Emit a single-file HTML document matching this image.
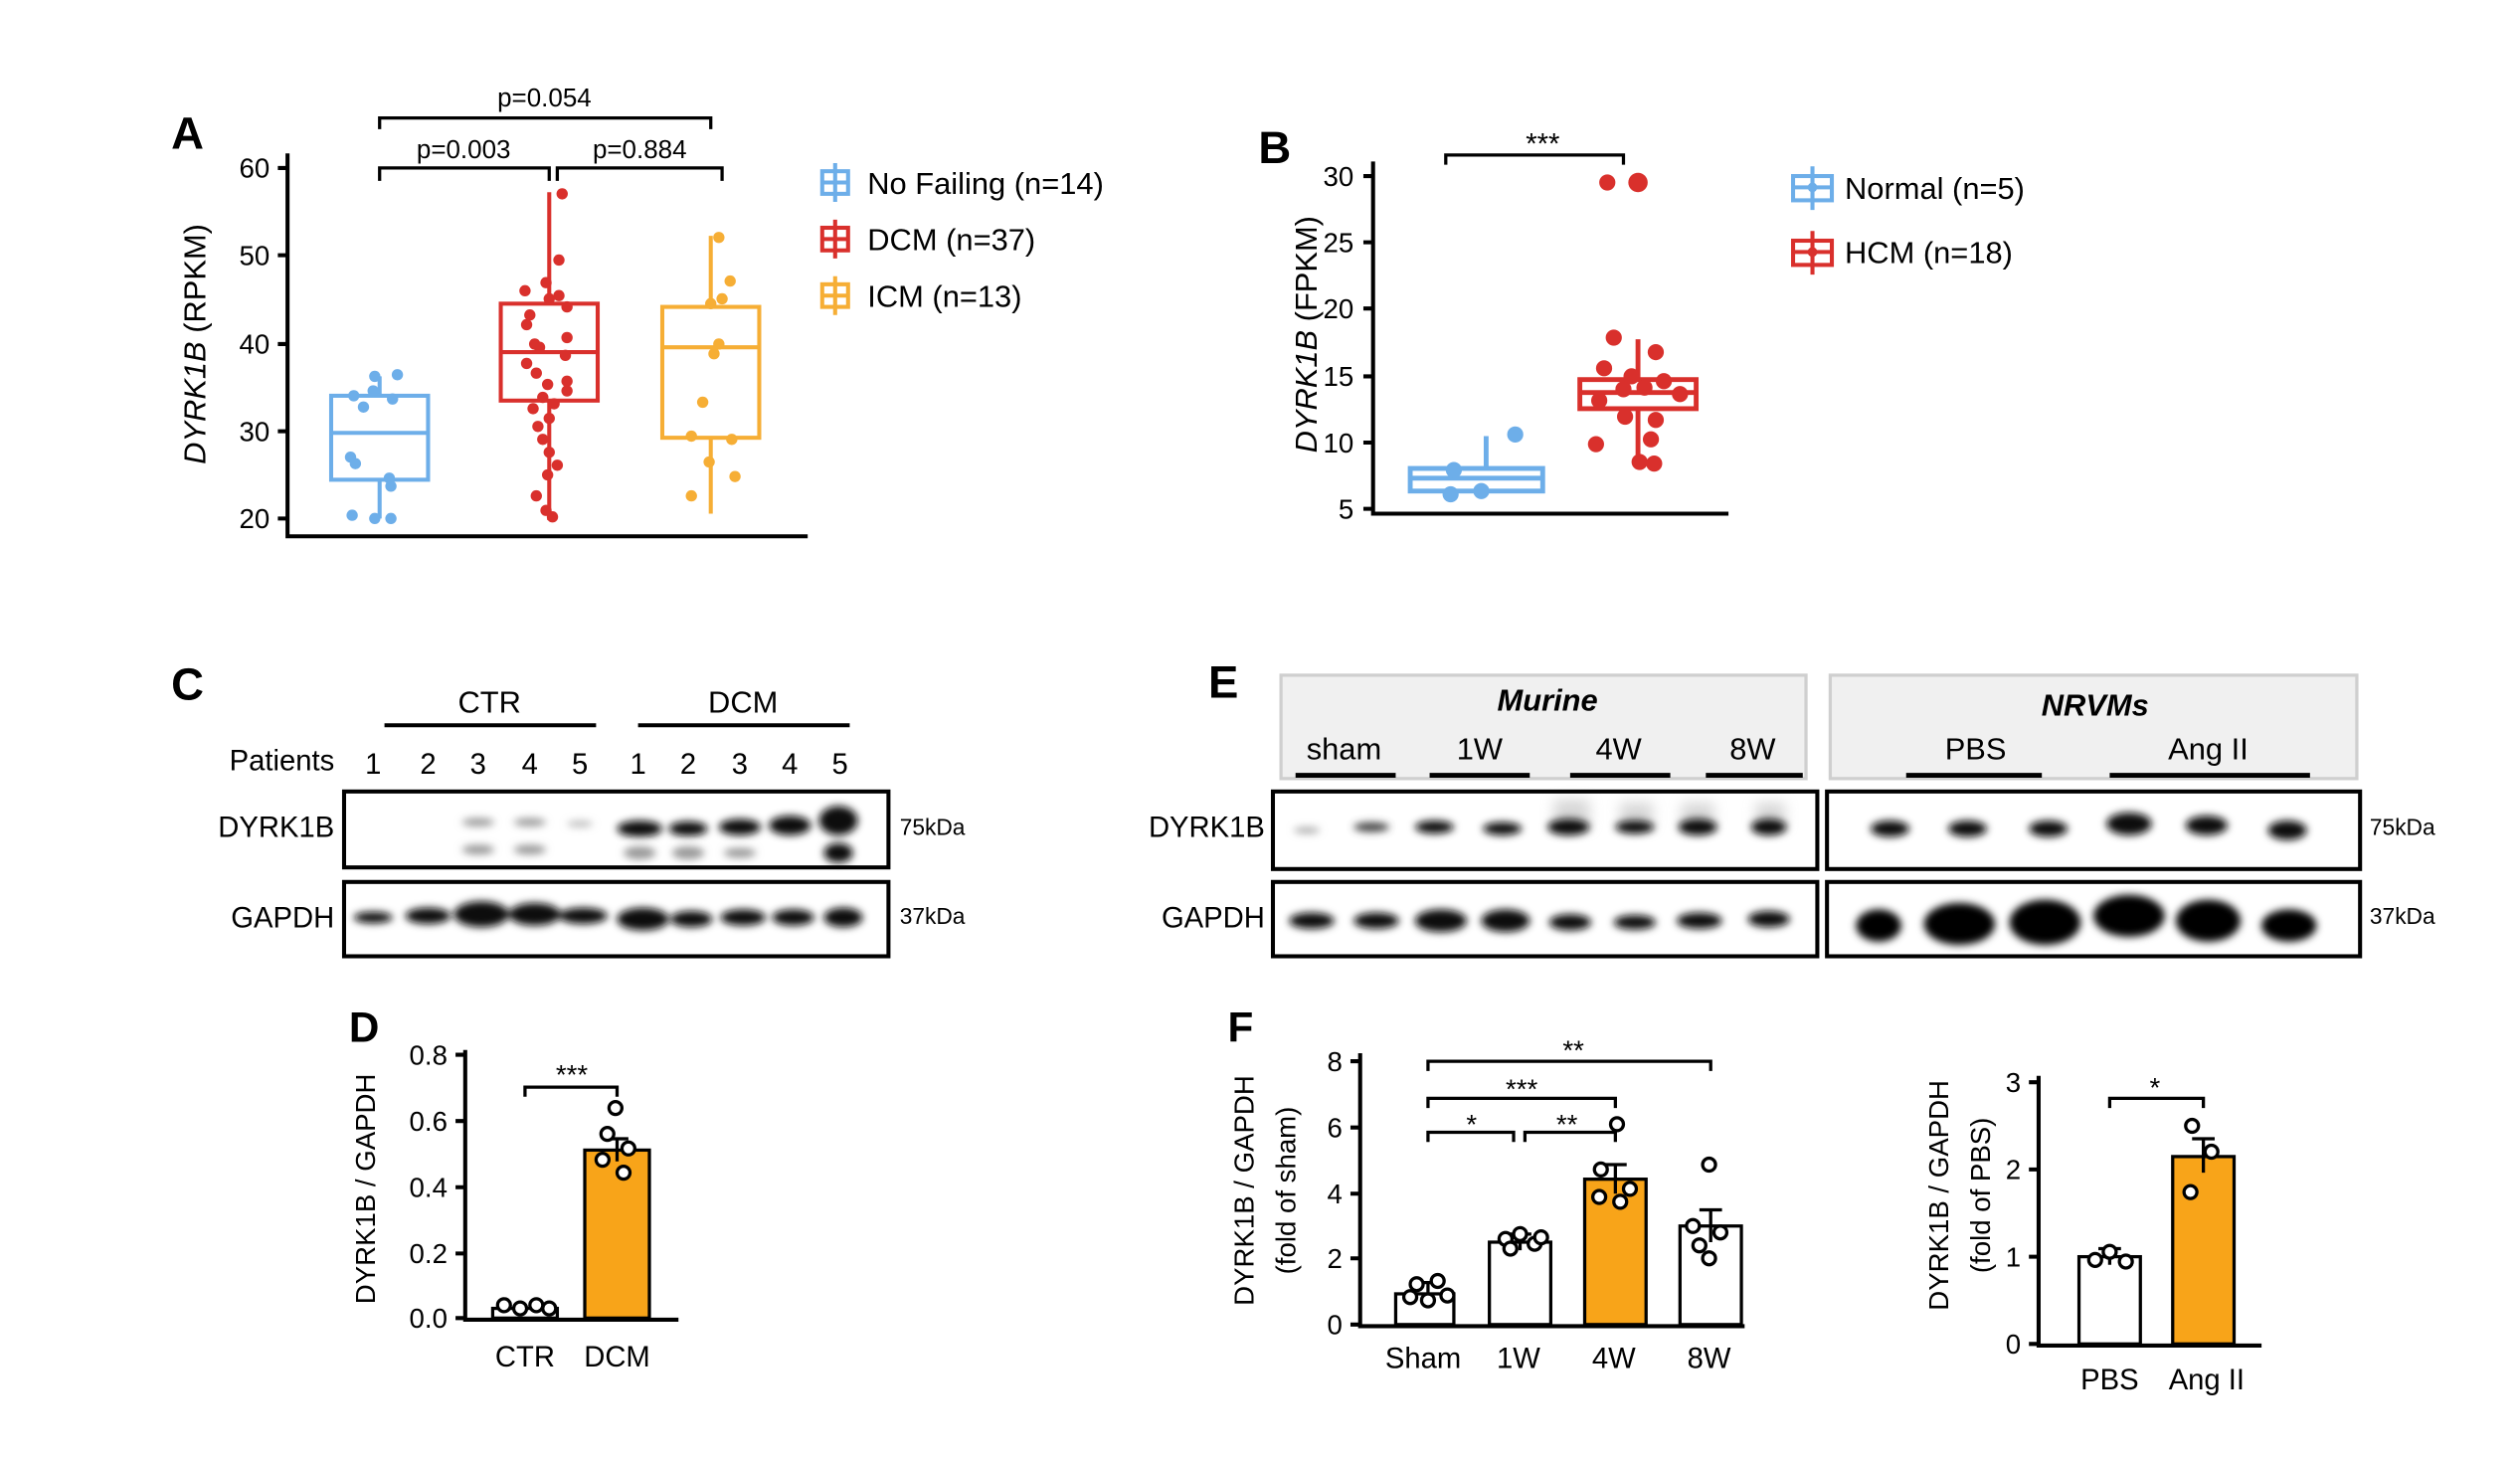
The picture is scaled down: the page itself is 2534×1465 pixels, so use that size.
<!DOCTYPE html>
<html><head><meta charset="utf-8"><style>
html,body{margin:0;padding:0;background:#fff}
svg{display:block}
text{font-family:"Liberation Sans",Arial,sans-serif;fill:#000}
</style></head><body>
<svg width="2534" height="1465" viewBox="0 0 1560 902" preserveAspectRatio="none" xmlns="http://www.w3.org/2000/svg">
<defs><filter id="b" x="-50%" y="-100%" width="200%" height="300%"><feGaussianBlur stdDeviation="2.5"/></filter>
<filter id="b3" x="-50%" y="-50%" width="200%" height="200%"><feGaussianBlur stdDeviation="4"/></filter></defs>
<rect width="1560" height="902" fill="#fff"/>

<!-- Panel A -->
<text x="106" y="92" font-size="28" font-weight="bold">A</text>
<g stroke="#000" stroke-width="2.5" fill="none">
<path d="M178 95V332H500"/>
<path d="M172 104H178M172 158H178M172 213H178M172 267H178M172 321H178"/>
</g>
<g font-size="17" text-anchor="end"><text x="167" y="110">60</text><text x="167" y="164">50</text><text x="167" y="219">40</text><text x="167" y="273">30</text><text x="167" y="327">20</text></g>
<text transform="translate(127,213) rotate(-90)" font-size="19" text-anchor="middle"><tspan font-style="italic">DYRK1B</tspan> (RPKM)</text>
<g stroke="#000" stroke-width="2" fill="none">
<path d="M235 112V104H340V112M345 112V104H447V112M235 80V73H440V80"/></g>
<g font-size="16" text-anchor="middle"><text x="287" y="98">p=0.003</text><text x="396" y="98">p=0.884</text><text x="337" y="66">p=0.054</text></g>
<g stroke="#6daee9" stroke-width="2.5" fill="none"><rect x="205" y="245" width="60" height="52"/><path d="M205 268H265M235 245V233M235 297V321"/></g>
<g fill="#6daee9"><circle cx="232" cy="233" r="3.5"/><circle cx="246" cy="232" r="3.5"/><circle cx="219" cy="245" r="3.5"/><circle cx="231" cy="242" r="3.5"/><circle cx="243" cy="247" r="3.5"/><circle cx="225" cy="252" r="3.5"/><circle cx="217" cy="283" r="3.5"/><circle cx="220" cy="287" r="3.5"/><circle cx="241" cy="296" r="3.5"/><circle cx="242" cy="301" r="3.5"/><circle cx="218" cy="319" r="3.5"/><circle cx="232" cy="321" r="3.5"/><circle cx="242" cy="321" r="3.5"/></g>
<g stroke="#d9302c" stroke-width="2.5" fill="none"><rect x="310" y="188" width="60" height="60"/><path d="M310 218H370M340 188V119M340 248V322"/></g>
<g fill="#d9302c"><circle cx="348" cy="120" r="3.5"/><circle cx="346" cy="161" r="3.5"/><circle cx="338" cy="175" r="3.5"/><circle cx="325" cy="180" r="3.5"/><circle cx="340" cy="185" r="3.5"/><circle cx="346" cy="183" r="3.5"/><circle cx="351" cy="190" r="3.5"/><circle cx="328" cy="195" r="3.5"/><circle cx="326" cy="201" r="3.5"/><circle cx="351" cy="209" r="3.5"/><circle cx="331" cy="213" r="3.5"/><circle cx="334" cy="215" r="3.5"/><circle cx="350" cy="220" r="3.5"/><circle cx="326" cy="225" r="3.5"/><circle cx="332" cy="231" r="3.5"/><circle cx="351" cy="236" r="3.5"/><circle cx="339" cy="238" r="3.5"/><circle cx="351" cy="242" r="3.5"/><circle cx="336" cy="246" r="3.5"/><circle cx="343" cy="250" r="3.5"/><circle cx="330" cy="253" r="3.5"/><circle cx="340" cy="259" r="3.5"/><circle cx="333" cy="264" r="3.5"/><circle cx="336" cy="272" r="3.5"/><circle cx="340" cy="280" r="3.5"/><circle cx="339" cy="294" r="3.5"/><circle cx="332" cy="307" r="3.5"/><circle cx="338" cy="316" r="3.5"/><circle cx="342" cy="320" r="3.5"/><circle cx="345" cy="288" r="3.5"/></g>
<g stroke="#f6ae35" stroke-width="2.5" fill="none"><rect x="410" y="190" width="60" height="81"/><path d="M410 215H470M440 190V146M440 271V318"/></g>
<g fill="#f6ae35"><circle cx="445" cy="147" r="3.5"/><circle cx="452" cy="174" r="3.5"/><circle cx="447" cy="185" r="3.5"/><circle cx="440" cy="188" r="3.5"/><circle cx="445" cy="213" r="3.5"/><circle cx="442" cy="219" r="3.5"/><circle cx="435" cy="249" r="3.5"/><circle cx="428" cy="270" r="3.5"/><circle cx="453" cy="272" r="3.5"/><circle cx="439" cy="286" r="3.5"/><circle cx="455" cy="295" r="3.5"/><circle cx="428" cy="307" r="3.5"/></g>
<g stroke-width="2.5" fill="none"><g stroke="#6daee9"><rect x="509" y="106" width="16" height="14"/><path d="M517 101V125M509 113H525"/></g>
<g stroke="#d9302c"><rect x="509" y="141" width="16" height="14"/><path d="M517 136V160M509 148H525"/></g>
<g stroke="#f6ae35"><rect x="509" y="176" width="16" height="14"/><path d="M517 171V195M509 183H525"/></g></g>
<g font-size="19"><text x="537" y="120">No Failing (n=14)</text><text x="537" y="155">DCM (n=37)</text><text x="537" y="190">ICM (n=13)</text></g>

<!-- Panel B -->
<text x="779" y="101" font-size="28" font-weight="bold">B</text>
<g stroke="#000" stroke-width="2.5" fill="none"><path d="M850 100V318H1070"/>
<path d="M844 109H850M844 150H850M844 191H850M844 233H850M844 274H850M844 315H850"/></g>
<g font-size="17" text-anchor="end"><text x="838" y="115">30</text><text x="838" y="156">25</text><text x="838" y="197">20</text><text x="838" y="239">15</text><text x="838" y="280">10</text><text x="838" y="321">5</text></g>
<text transform="translate(815,207) rotate(-90)" font-size="19" text-anchor="middle"><tspan font-style="italic">DYRK1B</tspan> (FPKM)</text>
<path d="M895 102V96H1005V102" stroke="#000" stroke-width="2" fill="none"/>
<text x="955" y="95" font-size="18" text-anchor="middle">***</text>
<g stroke="#6daee9" stroke-width="3" fill="none"><rect x="873" y="290" width="82" height="14"/><path d="M873 296H955M920 290V270"/></g>
<g fill="#6daee9"><circle cx="938" cy="269" r="5"/><circle cx="900" cy="291" r="5"/><circle cx="898" cy="306" r="5"/><circle cx="917" cy="304" r="5"/></g>
<g stroke="#d9302c" stroke-width="3" fill="none"><rect x="978" y="235" width="72" height="18"/><path d="M978 243H1050M1014 235V210M1014 253V285"/></g>
<g fill="#d9302c"><circle cx="995" cy="113" r="5"/><circle cx="1014" cy="113" r="6"/><circle cx="999" cy="209" r="5"/><circle cx="1025" cy="218" r="5"/><circle cx="993" cy="228" r="5"/><circle cx="1010" cy="233" r="5"/><circle cx="1030" cy="236" r="5"/><circle cx="1018" cy="240" r="5"/><circle cx="1005" cy="241" r="5"/><circle cx="1040" cy="244" r="5"/><circle cx="990" cy="248" r="5"/><circle cx="1006" cy="258" r="5"/><circle cx="1025" cy="260" r="5"/><circle cx="988" cy="275" r="5"/><circle cx="1022" cy="272" r="5"/><circle cx="1015" cy="286" r="5"/><circle cx="1024" cy="287" r="5"/></g>
<g stroke-width="2.5" fill="none"><g stroke="#6daee9"><rect x="1110" y="109" width="24" height="15"/><path d="M1122 103V130M1110 116H1134"/></g>
<g stroke="#d9302c"><rect x="1110" y="149" width="24" height="15"/><path d="M1122 143V170M1110 156H1134"/></g></g>
<circle cx="1122" cy="116" r="3" fill="#6daee9"/><circle cx="1122" cy="156" r="3" fill="#d9302c"/>
<g font-size="19"><text x="1142" y="123">Normal (n=5)</text><text x="1142" y="163">HCM (n=18)</text></g>

<!-- Panel C -->
<text x="106" y="433" font-size="28" font-weight="bold">C</text>
<g stroke="#000" stroke-width="2.5"><path d="M238 449H369M395 449H526"/></g>
<g font-size="19" text-anchor="middle"><text x="303" y="441">CTR</text><text x="460" y="441">DCM</text></g>
<text x="207" y="477" font-size="18" text-anchor="end">Patients</text>
<g font-size="18" text-anchor="middle"><text x="231" y="479">1</text><text x="265" y="479">2</text><text x="296" y="479">3</text><text x="328" y="479">4</text><text x="359" y="479">5</text><text x="395" y="479">1</text><text x="426" y="479">2</text><text x="458" y="479">3</text><text x="489" y="479">4</text><text x="520" y="479">5</text></g>
<g font-size="18" text-anchor="end"><text x="207" y="518">DYRK1B</text><text x="207" y="574">GAPDH</text></g>
<g filter="url(#b)">
<g fill="#999"><ellipse cx="296" cy="509" rx="10" ry="2.5"/><ellipse cx="328" cy="509" rx="10" ry="2.5"/><ellipse cx="296" cy="526" rx="10" ry="3"/><ellipse cx="328" cy="526" rx="10" ry="3"/><ellipse cx="359" cy="510" rx="8" ry="2" fill="#bbb"/></g>
<g fill="#111"><ellipse cx="396" cy="513" rx="14" ry="5"/><ellipse cx="426" cy="513" rx="12" ry="4.5"/><ellipse cx="458" cy="512" rx="13" ry="5"/><ellipse cx="489" cy="511" rx="13" ry="6"/><ellipse cx="519" cy="508" rx="12" ry="9"/><ellipse cx="519" cy="528" rx="9" ry="6"/></g>
<g fill="#999"><ellipse cx="396" cy="528" rx="10" ry="4"/><ellipse cx="426" cy="528" rx="10" ry="4"/><ellipse cx="458" cy="528" rx="10" ry="3"/></g>
<g fill="#111"><ellipse cx="231" cy="568" rx="12" ry="3.5"/><ellipse cx="265" cy="567" rx="14" ry="5"/><ellipse cx="298" cy="566" rx="17" ry="8"/><ellipse cx="331" cy="566" rx="16" ry="7"/><ellipse cx="361" cy="567" rx="15" ry="5"/><ellipse cx="398" cy="569" rx="16" ry="7"/><ellipse cx="428" cy="569" rx="13" ry="5"/><ellipse cx="460" cy="568" rx="14" ry="5"/><ellipse cx="491" cy="568" rx="13" ry="5"/><ellipse cx="522" cy="568" rx="12" ry="6"/></g>
</g>
<g fill="none" stroke="#000" stroke-width="2.5"><rect x="213" y="490" width="337" height="47"/><rect x="213" y="546" width="337" height="46"/></g>
<g font-size="14"><text x="557" y="517">75kDa</text><text x="557" y="572">37kDa</text></g>

<!-- Panel D -->
<text x="216" y="645" font-size="26" font-weight="bold">D</text>
<g stroke="#000" stroke-width="2.5" fill="none"><path d="M288 650V817H420"/>
<path d="M282 653H288M282 694H288M282 735H288M282 776H288M282 816H288"/></g>
<g font-size="17" text-anchor="end"><text x="277" y="659">0.8</text><text x="277" y="700">0.6</text><text x="277" y="741">0.4</text><text x="277" y="782">0.2</text><text x="277" y="822">0.0</text></g>
<text transform="translate(232,736) rotate(-90)" font-size="17" text-anchor="middle">DYRK1B / GAPDH</text>
<rect x="305" y="810" width="40" height="6" fill="#fff" stroke="#000" stroke-width="2"/>
<rect x="362" y="712" width="40" height="104" fill="#f8a419" stroke="#000" stroke-width="2"/>
<g stroke="#000" stroke-width="2" fill="none"><path d="M375 705H389M382 705V719"/>
<path d="M325 679V673H382V679"/></g>
<text x="354" y="671" font-size="17" text-anchor="middle">***</text>
<g fill="#fff" stroke="#000" stroke-width="2"><circle cx="312" cy="808" r="4"/><circle cx="322" cy="810" r="4"/><circle cx="332" cy="808" r="4"/><circle cx="340" cy="810" r="4"/><circle cx="381" cy="686" r="4"/><circle cx="376" cy="702" r="4"/><circle cx="389" cy="711" r="4"/><circle cx="373" cy="718" r="4"/><circle cx="386" cy="726" r="4"/></g>
<g font-size="18" text-anchor="middle"><text x="325" y="846">CTR</text><text x="382" y="846">DCM</text></g>

<!-- Panel E -->
<text x="748" y="432" font-size="28" font-weight="bold">E</text>
<g fill="#f0f0f0" stroke="#cfcfcf" stroke-width="2"><rect x="793" y="418" width="325" height="64"/><rect x="1133" y="418" width="326" height="64"/></g>
<g font-size="19" font-weight="bold" font-style="italic" text-anchor="middle"><text x="958" y="440">Murine</text><text x="1297" y="443">NRVMs</text></g>
<g font-size="19" text-anchor="middle"><text x="832" y="470">sham</text><text x="916" y="470">1W</text><text x="1002" y="470">4W</text><text x="1085" y="470">8W</text><text x="1223" y="470">PBS</text><text x="1367" y="470">Ang II</text></g>
<g stroke="#000" stroke-width="3"><path d="M802 480H864M885 480H947M972 480H1034M1056 480H1116M1180 480H1264M1306 480H1430"/></g>
<g font-size="18" text-anchor="end"><text x="783" y="518">DYRK1B</text><text x="783" y="574">GAPDH</text></g>
<g filter="url(#b3)" fill="#ccc" opacity="0.8"><rect x="962" y="495" width="22" height="18"/><rect x="1003" y="497" width="20" height="16"/><rect x="1041" y="497" width="20" height="16"/><rect x="1087" y="497" width="18" height="16"/></g>
<g filter="url(#b)">
<g fill="#111"><ellipse cx="809" cy="514" rx="8" ry="2" fill="#aaa"/><ellipse cx="849" cy="512" rx="11" ry="3" fill="#444"/><ellipse cx="888" cy="512" rx="12" ry="4"/><ellipse cx="930" cy="513" rx="12" ry="4"/><ellipse cx="971" cy="512" rx="13" ry="5"/><ellipse cx="1012" cy="512" rx="12" ry="4"/><ellipse cx="1051" cy="512" rx="12" ry="5"/><ellipse cx="1095" cy="512" rx="11" ry="5"/></g>
<g fill="#111"><ellipse cx="1170" cy="513" rx="12" ry="5"/><ellipse cx="1218" cy="513" rx="12" ry="5"/><ellipse cx="1268" cy="513" rx="12" ry="5"/><ellipse cx="1318" cy="510" rx="14" ry="7"/><ellipse cx="1366" cy="511" rx="13" ry="6"/><ellipse cx="1416" cy="514" rx="12" ry="6"/></g>
<g fill="#111"><ellipse cx="812" cy="570" rx="14" ry="5"/><ellipse cx="852" cy="570" rx="14" ry="5"/><ellipse cx="892" cy="570" rx="16" ry="7"/><ellipse cx="932" cy="570" rx="15" ry="7"/><ellipse cx="972" cy="571" rx="13" ry="5"/><ellipse cx="1012" cy="571" rx="13" ry="4.5"/><ellipse cx="1052" cy="570" rx="14" ry="5"/><ellipse cx="1095" cy="569" rx="13" ry="5"/></g>
<g fill="#000"><ellipse cx="1163" cy="573" rx="14" ry="10"/><ellipse cx="1213" cy="572" rx="22" ry="13"/><ellipse cx="1266" cy="571" rx="22" ry="14"/><ellipse cx="1318" cy="567" rx="22" ry="13"/><ellipse cx="1367" cy="570" rx="20" ry="13"/><ellipse cx="1417" cy="573" rx="17" ry="10"/></g>
</g>
<g fill="none" stroke="#000" stroke-width="2.5"><rect x="788" y="490" width="337" height="48"/><rect x="788" y="546" width="337" height="46"/><rect x="1131" y="490" width="330" height="48"/><rect x="1131" y="546" width="330" height="46"/></g>
<g font-size="14"><text x="1467" y="517">75kDa</text><text x="1467" y="572">37kDa</text></g>

<!-- Panel F left -->
<text x="760" y="645" font-size="26" font-weight="bold">F</text>
<g stroke="#000" stroke-width="2.5" fill="none"><path d="M842 652V821H1080"/>
<path d="M836 657H842M836 698H842M836 739H842M836 779H842M836 820H842"/></g>
<g font-size="17" text-anchor="end"><text x="831" y="663">8</text><text x="831" y="704">6</text><text x="831" y="745">4</text><text x="831" y="785">2</text><text x="831" y="826">0</text></g>
<text transform="translate(776,737) rotate(-90)" font-size="17" text-anchor="middle">DYRK1B / GAPDH</text>
<text transform="translate(802,737) rotate(-90)" font-size="17" text-anchor="middle">(fold of sham)</text>
<g stroke="#000" stroke-width="2"><rect x="864" y="801" width="36" height="19" fill="#fff"/><rect x="922" y="769" width="38" height="51" fill="#fff"/><rect x="981" y="730" width="38" height="90" fill="#f8a419"/><rect x="1040" y="759" width="38" height="61" fill="#fff"/>
<path d="M877 794H891M884 794V808M934 764H948M941 764V774M993 721H1007M1000 721V739M1052 749H1066M1059 749V769" fill="none"/>
<path d="M884 707V701H937V707M944 707V701H1000V707M884 686V680H1000V686M884 663V657H1059V663" fill="none"/></g>
<g font-size="17" text-anchor="middle"><text x="911" y="702">*</text><text x="970" y="702">**</text><text x="942" y="680">***</text><text x="974" y="656">**</text></g>
<g fill="#fff" stroke="#000" stroke-width="2"><circle cx="877" cy="795" r="4"/><circle cx="890" cy="793" r="4"/><circle cx="873" cy="803" r="4"/><circle cx="884" cy="805" r="4"/><circle cx="896" cy="802" r="4"/><circle cx="932" cy="767" r="4"/><circle cx="941" cy="764" r="4"/><circle cx="950" cy="770" r="4"/><circle cx="935" cy="773" r="4"/><circle cx="954" cy="766" r="4"/><circle cx="1001" cy="696" r="4"/><circle cx="991" cy="724" r="4"/><circle cx="1009" cy="736" r="4"/><circle cx="990" cy="741" r="4"/><circle cx="1003" cy="744" r="4"/><circle cx="1058" cy="721" r="4"/><circle cx="1048" cy="759" r="4"/><circle cx="1065" cy="763" r="4"/><circle cx="1052" cy="771" r="4"/><circle cx="1058" cy="779" r="4"/></g>
<g font-size="18" text-anchor="middle"><text x="881" y="847">Sham</text><text x="940" y="847">1W</text><text x="999" y="847">4W</text><text x="1058" y="847">8W</text></g>

<!-- Panel F right -->
<g stroke="#000" stroke-width="2.5" fill="none"><path d="M1262 666V833H1400"/>
<path d="M1256 670H1262M1256 724H1262M1256 778H1262M1256 832H1262"/></g>
<g font-size="17" text-anchor="end"><text x="1251" y="676">3</text><text x="1251" y="730">2</text><text x="1251" y="784">1</text><text x="1251" y="838">0</text></g>
<text transform="translate(1206,740) rotate(-90)" font-size="17" text-anchor="middle">DYRK1B / GAPDH</text>
<text transform="translate(1232,740) rotate(-90)" font-size="17" text-anchor="middle">(fold of PBS)</text>
<g stroke="#000" stroke-width="2"><rect x="1287" y="778" width="38" height="54" fill="#fff"/><rect x="1345" y="716" width="38" height="116" fill="#f8a419"/>
<path d="M1299 773H1313M1306 773V783M1357 705H1371M1364 705V726M1306 686V680H1364V686" fill="none"/></g>
<text x="1334" y="679" font-size="17" text-anchor="middle">*</text>
<g fill="#fff" stroke="#000" stroke-width="2"><circle cx="1297" cy="780" r="4"/><circle cx="1306" cy="775" r="4"/><circle cx="1316" cy="781" r="4"/><circle cx="1357" cy="697" r="4"/><circle cx="1369" cy="713" r="4"/><circle cx="1356" cy="738" r="4"/></g>
<g font-size="18" text-anchor="middle"><text x="1306" y="860">PBS</text><text x="1366" y="860">Ang II</text></g>
</svg>
</body></html>
